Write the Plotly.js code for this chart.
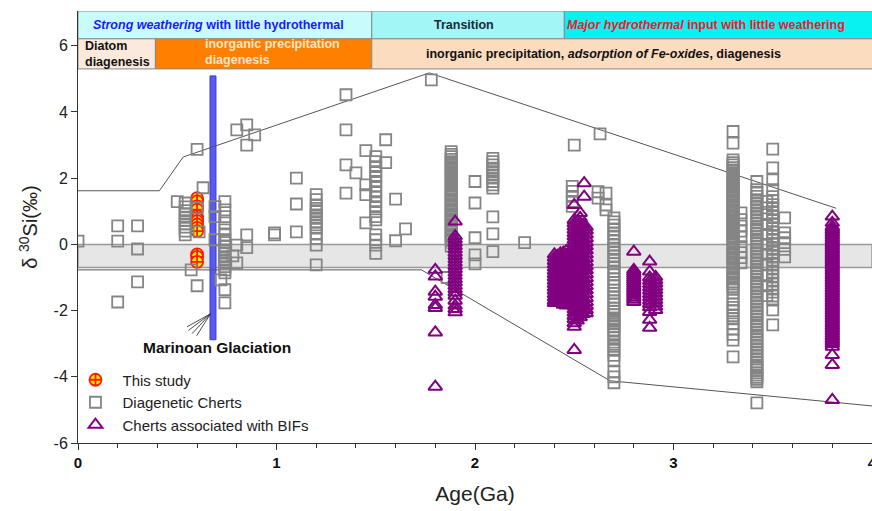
<!DOCTYPE html>
<html>
<head>
<meta charset="utf-8">
<script src="https://cdn.plot.ly/plotly-3.0.1.min.js"></script>
<style>html,body{margin:0;padding:0;background:#fff;overflow:hidden;}#chart{width:880px;height:511px;}</style>
</head>
<body>
<div id="chart"></div>
<script>
// ---- data (age in Ga, d30Si in permil) ----
// This study
const studyAge = [0.60];
const studyD30Si = [[1.40, 1.30, 1.15, 1.05, 0.85, 0.78, 0.70, 0.60, 0.50, 0.40, -0.30, -0.38, -0.53]];

// Diagenetic cherts: [age, values at that age]
const chertGroups = [
  [0.00, [0.10]],
  [0.20, [0.56, 0.10, -1.74]],
  [0.30, [0.56, -0.14, -1.13]],
  [0.50, [1.29]],
  [0.54, [1.25, 1.13, 1.02, 0.92, 0.82, 0.72, 0.62, 0.52, 0.40, 0.29]],
  [0.57, [-0.77]],
  [0.60, [2.87, 1.10, -1.25]],
  [0.61, [0.38]],
  [0.63, [1.71]],
  [0.69, [1.14, 0.84, 0.14]],
  [0.72, [-1.07]],
  [0.74, [1.29, 1.04, 0.84, 0.65, 0.44, 0.29, 0.14, 0.05, -0.07, -0.17, -0.26, -0.37, -0.47, -0.56, -0.67, -0.77, -0.86, -1.37, -1.77]],
  [0.78, [-0.35]],
  [0.80, [3.46, -0.02, -0.56]],
  [0.85, [3.61, 3.00, 0.29, -0.10]],
  [0.89, [3.31]],
  [0.99, [0.29, 0.35]],
  [1.10, [2.00, 1.22, 0.38]],
  [1.20, [1.50, 1.35, 1.19, 1.09, 0.99, 0.89, 0.79, 0.69, 0.59, 0.49, 0.33, 0.18, -0.02, -0.62]],
  [1.35, [4.52, 3.46, 2.40, 1.55]],
  [1.40, [2.16]],
  [1.45, [2.83, 1.80, 1.50, 0.65]],
  [1.50, [2.65, 2.50, 2.35, 2.20, 2.05, 1.90, 1.75, 1.59, 1.44, 1.29, 1.14, 0.99, 0.84, 0.74, 0.29, 0.14, -0.02, -0.27]],
  [1.55, [3.16, 2.47]],
  [1.60, [1.37, 0.11]],
  [1.65, [0.47]],
  [1.78, [4.97]],
  [1.86, [-1.00]],
  [1.88, [2.80, 2.72, 2.65, 2.57, 2.50, 2.42, 2.35, 2.27, 2.20, 2.12, 2.05, 1.97, 1.90, 1.82, 1.75, 1.67, 1.60, 1.52, 1.45, 1.37, 1.30, 1.22, 1.15, 1.07, 1.00, 0.92, 0.85, 0.77, 0.70, 0.62, 0.55, 0.47, 0.40, 0.32, 0.25, 0.17, 0.10, -0.05]],
  [2.00, [1.90, 1.25, 0.20, -0.32, -0.59]],
  [2.09, [2.60, 2.50, 2.40, 2.30, 2.20, 2.10, 2.00, 1.90, 1.80, 1.70, 0.83, 0.32, -0.22]],
  [2.25, [0.05]],
  [2.49, [1.75, 1.60, 1.45, 1.30, 1.15]],
  [2.50, [3.00]],
  [2.62, [1.59, 1.40]],
  [2.63, [3.34]],
  [2.66, [1.55, 1.19, 1.04]],
  [2.70, [0.80, 0.68, 0.58, 0.45, 0.33, 0.22, 0.10, -0.02, -0.12, -0.25, -0.35, -0.48, -0.58, -0.70, -0.82, -0.92, -1.05, -1.15, -1.25, -1.38, -1.48, -1.60, -1.70, -1.80, -1.92, -2.02, -2.12, -2.22, -2.30, -2.40, -2.48, -2.58, -2.70, -2.82, -2.95, -3.08, -3.20, -3.35, -3.50, -3.85, -4.00, -4.18]],
  [3.30, [3.41, 3.06, 2.55, 2.47, 2.40, 2.32, 2.25, 2.17, 2.10, 2.02, 1.95, 1.87, 1.80, 1.72, 1.65, 1.57, 1.50, 1.42, 1.35, 1.27, 1.20, 1.12, 1.05, 0.97, 0.90, 0.82, 0.75, 0.67, 0.60, 0.52, 0.45, 0.37, 0.30, 0.22, 0.15, 0.07, 0.00, -0.08, -0.15, -0.23, -0.30, -0.38, -0.45, -0.53, -0.60, -0.68, -0.75, -0.83, -0.90, -0.98, -1.05, -1.13, -1.20, -1.28, -1.35, -1.47, -1.68, -1.80, -1.90, -2.00, -2.15, -2.25, -2.40, -2.55, -2.72, -2.89, -3.40]],
  [3.34, [0.95, 0.75, 0.55, 0.40, 0.23, -0.07, -0.25, -0.40, -0.56]],
  [3.42, [1.90, 1.65, 1.55, 1.45, 1.35, 1.25, 1.15, 1.05, 0.95, 0.85, 0.75, 0.65, 0.55, 0.45, 0.35, 0.25, 0.15, 0.05, -0.05, -0.15, -0.25, -0.35, -0.45, -0.55, -0.65, -0.75, -0.85, -0.95, -1.05, -1.15, -1.25, -1.35, -1.45, -1.55, -1.65, -1.75, -1.85, -1.95, -2.05, -2.15, -2.25, -2.35, -2.45, -2.55, -2.65, -2.75, -2.85, -2.95, -3.05, -3.15, -3.25, -3.35, -3.45, -3.55, -3.65, -3.72, -3.80, -3.88, -3.95, -4.02, -4.08, -4.15, -4.79]],
  [3.47, [1.30, 1.10, 0.90, 0.60, 0.30, 0.00, -0.30, -0.60, -0.95, -1.25, -1.55]],
  [3.50, [2.88, 2.31, 1.95, 1.65, 1.44, 1.32, 1.20, 1.08, 0.96, 0.84, 0.72, 0.60, 0.48, 0.36, 0.24, 0.12, 0.00, -0.12, -0.24, -0.36, -0.48, -0.60, -0.72, -0.84, -0.96, -1.08, -1.20, -1.32, -1.44, -1.56, -1.68, -1.98, -2.43]],
  [3.56, [0.80, 0.35, 0.20, 0.05, -0.15, -0.38]]
];

// Cherts associated with BIFs: [age, values at that age]
const bifGroups = [
  [1.80, [-0.77, -0.97, -1.43, -1.58, -1.83, -1.92, -2.66, -4.30]],
  [1.90, [0.69, 0.25, 0.15, 0.05, -0.05, -0.15, -0.25, -0.35, -0.45, -0.55, -0.65, -0.75, -0.85, -0.95, -1.05, -1.15, -1.25, -1.35, -1.45, -1.55, -1.70, -1.85, -1.95, -2.05]],
  [2.40, [-0.30, -0.40, -0.50, -0.60, -0.70, -0.80, -0.90, -1.00, -1.10, -1.20, -1.30, -1.40, -1.50, -1.60, -1.70, -1.77]],
  [2.415, [-0.35, -0.45, -0.55, -0.65, -0.75, -0.85, -0.95, -1.05, -1.15, -1.25, -1.35, -1.45, -1.55, -1.65, -1.75]],
  [2.43, [-0.27, -0.37, -0.47, -0.57, -0.67, -0.77, -0.87, -0.97, -1.07, -1.17, -1.27, -1.37, -1.47, -1.57, -1.67, -1.77]],
  [2.445, [-0.25, -0.35, -0.45, -0.55, -0.65, -0.75, -0.85, -0.95, -1.05, -1.15, -1.25, -1.35, -1.45, -1.55, -1.65, -1.75, -1.82]],
  [2.46, [-0.20, -0.32, -0.44, -0.56, -0.68, -0.80, -0.92, -1.04, -1.16, -1.28, -1.40, -1.52, -1.64, -1.76, -1.85]],
  [2.50, [1.19, 0.74, 0.64, 0.54, 0.44, 0.34, 0.24, 0.14, 0.04, -0.06, -0.16, -0.26, -0.36, -0.46, -0.56, -0.66, -0.76, -0.86, -0.96, -1.06, -1.16, -1.26, -1.36, -1.46, -1.56, -1.66, -1.76, -1.86, -1.96, -2.06, -2.16, -2.26, -2.38, -2.49, -3.19]],
  [2.515, [0.70, 0.57, 0.44, 0.31, 0.18, 0.05, -0.08, -0.21, -0.34, -0.47, -0.60, -0.73, -0.86, -0.99, -1.12, -1.25, -1.38, -1.51, -1.64, -1.77, -1.90, -2.03, -2.16, -2.30]],
  [2.53, [0.95, 0.80, 0.65, 0.50, 0.35, 0.20, 0.05, -0.10, -0.25, -0.40, -0.55, -0.70, -0.85, -1.00, -1.15, -1.30, -1.45, -1.60, -1.75, -1.90, -2.05, -2.20]],
  [2.545, [0.60, 0.45, 0.30, 0.15, 0.00, -0.15, -0.30, -0.45, -0.60, -0.75, -0.90, -1.05, -1.20, -1.35, -1.50, -1.65, -1.80, -1.95, -2.10]],
  [2.55, [1.85, 1.44]],
  [2.56, [0.53, 0.42, 0.30, 0.18, 0.06, -0.06, -0.18, -0.30, -0.42, -0.54, -0.66, -0.78, -0.90, -1.02, -1.14, -1.26, -1.38, -1.50, -1.62, -1.74, -1.86, -1.98, -2.08]],
  [2.80, [-0.22, -0.77, -0.83, -0.89, -0.95, -1.01, -1.07, -1.13, -1.19, -1.25, -1.31, -1.37, -1.43, -1.49, -1.55, -1.61, -1.67, -1.74]],
  [2.88, [-0.52, -0.82, -1.00, -1.10, -1.20, -1.30, -1.40, -1.50, -1.60, -1.70, -1.80, -1.90, -2.04, -2.28, -2.52]],
  [2.91, [-0.98, -1.08, -1.18, -1.28, -1.38, -1.48, -1.58, -1.68, -1.78, -1.88, -1.98]],
  [3.80, [0.84, 0.65, 0.54, 0.49, 0.44, 0.39, 0.34, 0.29, 0.24, 0.19, 0.14, 0.09, 0.04, -0.01, -0.06, -0.11, -0.16, -0.21, -0.26, -0.31, -0.36, -0.41, -0.46, -0.51, -0.56, -0.61, -0.66, -0.71, -0.76, -0.81, -0.86, -0.91, -0.96, -1.01, -1.06, -1.11, -1.16, -1.21, -1.26, -1.31, -1.36, -1.41, -1.46, -1.51, -1.56, -1.61, -1.66, -1.71, -1.76, -1.81, -1.86, -1.91, -1.96, -2.01, -2.06, -2.11, -2.16, -2.21, -2.26, -2.31, -2.36, -2.41, -2.46, -2.51, -2.56, -2.61, -2.66, -2.71, -2.76, -2.81, -2.86, -2.91, -2.96, -3.01, -3.09, -3.34, -3.64, -4.70]]
];

// Envelope lines
const upperEnvAge = [0, 0.41, 0.53, 1.77, 3.82];
const upperEnvD30Si = [1.62, 1.62, 2.64, 5.18, 1.09];
const lowerEnvAge = [0, 1.73, 2.68, 4.0];
const lowerEnvD30Si = [-0.77, -0.77, -4.12, -4.88];

// Modern seawater band and Marinoan glaciation
const bandRange = [-0.70, 0.00];
const marinoanAge = [0.665, 0.695];
const marinoanD30Si = [-2.88, 5.09];

const xTicks = [0, 1, 2, 3, 4];
const yTicks = [-6, -4, -2, 0, 2, 4, 6];

// ---- helpers ----
function flatten(groups) {
  const x = [], y = [];
  groups.forEach(g => g[1].forEach(v => { x.push(g[0]); y.push(v); }));
  return {x, y};
}
const study = flatten(studyAge.map((a, i) => [a, studyD30Si[i]]));
const chert = flatten(chertGroups);
const bif = flatten(bifGroups);

const FONT = 'Liberation Sans, Arial, sans-serif';

const traces = [
  {x: upperEnvAge, y: upperEnvD30Si, mode: 'lines', line: {color: '#555', width: 1}, showlegend: false, hoverinfo: 'skip'},
  {x: lowerEnvAge, y: lowerEnvD30Si, mode: 'lines', line: {color: '#555', width: 1}, showlegend: false, hoverinfo: 'skip'},
  {x: study.x, y: study.y, mode: 'markers', name: 'This study',
   marker: {symbol: 'circle-cross', size: 12, color: '#ffee00', line: {color: '#ff1a00', width: 1.8}}},
  {x: chert.x, y: chert.y, mode: 'markers', name: 'Diagenetic Cherts',
   marker: {symbol: 'square-open', size: 11, color: '#858585', line: {color: '#858585', width: 1.8}}},
  {x: bif.x, y: bif.y, mode: 'markers', name: 'Cherts associated with BIFs',
   marker: {symbol: 'triangle-up-open', size: 12, color: '#800080', line: {color: '#800080', width: 2}}}
];

// banner (layout decoration)
const r1 = [6.21, 7.05], r2 = [5.30, 6.21];
function box(x0, x1, yr, fill) {
  return {type: 'rect', xref: 'x', yref: 'y', x0: x0, x1: x1, y0: yr[0], y1: yr[1],
    fillcolor: fill, line: {color: '#8a8a8a', width: 1}, layer: 'above'};
}
const shapes = [
  {type: 'rect', xref: 'x', yref: 'y', x0: 0, x1: 4, y0: bandRange[0], y1: bandRange[1],
   fillcolor: '#e6e6e6', line: {color: '#999', width: 1.5}, layer: 'below'},
  {type: 'rect', xref: 'x', yref: 'y', x0: marinoanAge[0], x1: marinoanAge[1], y0: marinoanD30Si[0], y1: marinoanD30Si[1],
   fillcolor: '#5a5af0', line: {color: '#3a3ad0', width: 1}, layer: 'below'},
  box(0, 1.48, r1, '#c8fbfb'),
  box(1.48, 2.45, r1, '#a2f6f6'),
  box(2.45, 4.05, r1, '#08f2f2'),
  box(0, 0.39, r2, '#fbeadb'),
  box(0.39, 1.48, r2, '#ff8000'),
  box(1.48, 4.05, r2, '#fcdcbe')
];
// pointer lines of Marinoan label
[[0.549, -2.49], [0.556, -2.60], [0.574, -2.70], [0.598, -2.76]].forEach(p => {
  shapes.push({type: 'line', xref: 'x', yref: 'y', x0: p[0], y0: p[1], x1: 0.667, y1: -2.10,
    line: {color: '#222', width: 0.8}});
});

const annotations = [
  {xref: 'x', yref: 'y', x: 0.71, y: 6.62, showarrow: false, font: {family: FONT, size: 12.5, color: '#1a1aff', weight: 'bold'},
   text: '<i>Strong weathering</i> with little hydrothermal'},
  {xref: 'x', yref: 'y', x: 1.945, y: 6.62, showarrow: false, font: {family: FONT, size: 12.5, color: '#1c2a36', weight: 'bold'},
   text: 'Transition'},
  {xref: 'x', yref: 'y', x: 3.165, y: 6.62, showarrow: false, font: {family: FONT, size: 12.5, color: '#e8202a', weight: 'bold'},
   text: '<i>Major hydrothermal</i> input with little weathering'},
  {xref: 'x', yref: 'y', x: 0.025, y: 5.74, xanchor: 'left', align: 'left', showarrow: false,
   font: {family: FONT, size: 12.5, color: '#111', weight: 'bold'}, text: 'Diatom<br>diagenesis'},
  {xref: 'x', yref: 'y', x: 0.63, y: 5.82, xanchor: 'left', align: 'left', showarrow: false,
   font: {family: FONT, size: 12.5, color: '#fde6cc', weight: 'bold'}, text: 'inorganic precipitation<br>diagenesis'},
  {xref: 'x', yref: 'y', x: 2.645, y: 5.74, showarrow: false, font: {family: FONT, size: 12.5, color: '#111', weight: 'bold'},
   text: 'inorganic precipitation, <i>adsorption of Fe-oxides</i>, diagenesis'},
  {xref: 'x', yref: 'y', x: 0.70, y: -3.13, showarrow: false, font: {family: FONT, size: 15.5, color: '#111', weight: 'bold'},
   text: 'Marinoan Glaciation'}
];

const layout = {
  width: 880, height: 511,
  margin: {l: 78, r: 8, t: 11, b: 68},
  paper_bgcolor: '#fff', plot_bgcolor: '#fff',
  font: {family: FONT, color: '#222'},
  showlegend: true,
  legend: {x: -0.012, y: 0.184, xanchor: 'left', yanchor: 'top', bgcolor: 'rgba(0,0,0,0)',
    font: {family: FONT, size: 15, color: '#222'}, itemwidth: 44, tracegroupgap: 0},
  xaxis: {range: [0, 4], tickvals: xTicks, ticktext: xTicks.map(String), ticks: 'outside', ticklen: 6, tickwidth: 1,
    tickcolor: '#333', showline: true, linecolor: '#333', linewidth: 1, zeroline: false, showgrid: false,
    minor: {dtick: 0.2, ticks: 'outside', ticklen: 4, tickcolor: '#333', showgrid: false},
    tickfont: {family: FONT, size: 15, color: '#111', weight: 'bold'},
    title: {text: 'Age(Ga)', font: {family: FONT, size: 21, color: '#222'}, standoff: 16}},
  yaxis: {range: [-6, 7.05], tickvals: yTicks, ticktext: yTicks.map(String), ticks: 'outside', ticklen: 6, tickwidth: 1, tickcolor: '#333',
    showline: true, linecolor: '#333', linewidth: 1, zeroline: false, showgrid: false,
    tickfont: {family: FONT, size: 16, color: '#222'},
    title: {text: 'δ <sup>30</sup>Si(‰)', font: {family: FONT, size: 20, color: '#222'}, standoff: 10}},
  shapes: shapes,
  annotations: annotations
};

Plotly.newPlot('chart', traces, layout, {displayModeBar: false, staticPlot: true});
</script>
</body>
</html>
